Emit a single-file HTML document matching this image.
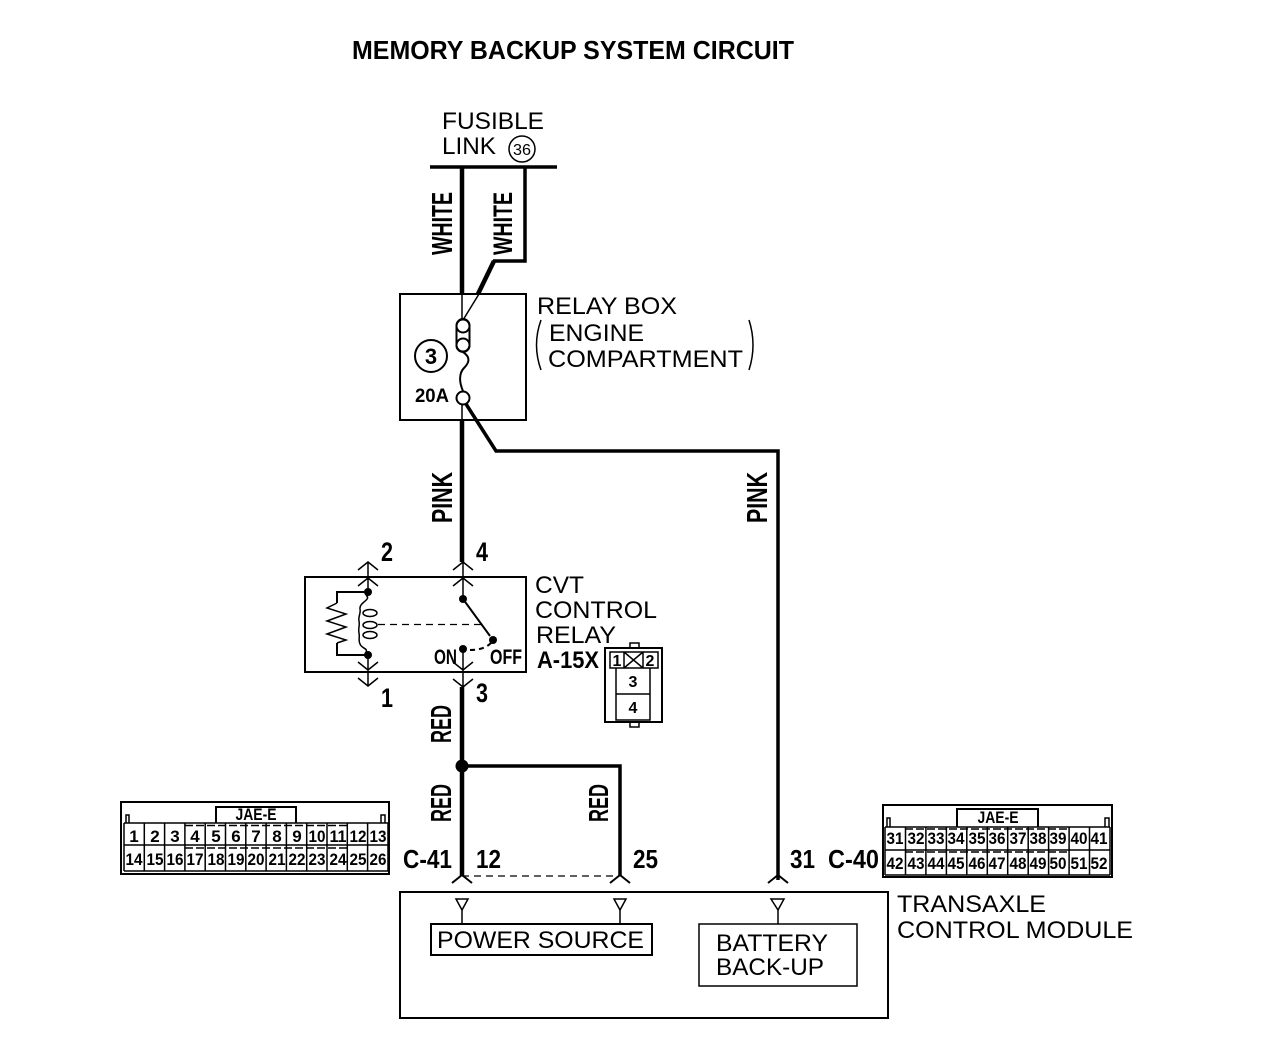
<!DOCTYPE html>
<html><head><meta charset="utf-8"><style>
html,body{margin:0;padding:0;background:#fff}
svg{display:block}
text{font-family:"Liberation Sans",sans-serif;fill:#000}
.b{font-weight:bold}
.n{font-size:24px}
.c{font-size:17px;font-weight:bold;text-anchor:middle}
.w{fill:none;stroke:#000;stroke-width:3.5}
.t{fill:none;stroke:#000;stroke-width:2}
.h{fill:none;stroke:#000;stroke-width:1.5}
</style></head><body>
<svg width="1280" height="1058" viewBox="0 0 1280 1058" xmlns="http://www.w3.org/2000/svg">
<text class="b" x="352" y="59" font-size="26" textLength="442" lengthAdjust="spacingAndGlyphs">MEMORY BACKUP SYSTEM CIRCUIT</text>

<!-- Fusible link -->
<text class="n" x="442" y="129" textLength="102" lengthAdjust="spacingAndGlyphs">FUSIBLE</text>
<text class="n" x="442" y="154" textLength="54" lengthAdjust="spacingAndGlyphs">LINK</text>
<circle class="h" cx="522" cy="149" r="13"/>
<text x="522" y="155" font-size="16" text-anchor="middle" textLength="18" lengthAdjust="spacingAndGlyphs">36</text>
<path d="M430 167H557" stroke="#000" stroke-width="3.5"/>
<path d="M462 167V294" stroke="#000" stroke-width="4.500"/>
<path d="M525 167V261H493" class="w"/>
<path d="M494 261L478 294" stroke="#000" stroke-width="4.500"/>

<text class="b" font-size="29" transform="translate(452 255) rotate(-90)" textLength="63" lengthAdjust="spacingAndGlyphs">WHITE</text>
<text class="b" font-size="27" transform="translate(512 255) rotate(-90)" textLength="63" lengthAdjust="spacingAndGlyphs">WHITE</text>

<!-- Relay box -->
<rect class="t" x="400" y="294" width="126" height="126"/>
<path d="M462 294V320M479 294L463 320" class="h"/>
<rect class="t" x="456.500" y="319" width="13" height="33" rx="6.500" fill="#fff"/>
<circle class="t" cx="463" cy="326" r="6.500"/>
<circle class="t" cx="463" cy="345" r="6.500"/>
<path d="M463 352C472 358 468 364 464 368C459 373 459 382 463 391" class="t"/>
<circle class="t" cx="463" cy="398" r="6.500"/>
<path d="M462 404V420" class="h"/>
<circle class="t" cx="431" cy="356" r="16"/>
<text class="b" x="431" y="364" font-size="22" text-anchor="middle">3</text>
<text class="b" x="415" y="402" font-size="19" textLength="34" lengthAdjust="spacingAndGlyphs">20A</text>
<text class="n" x="537" y="314" textLength="140" lengthAdjust="spacingAndGlyphs">RELAY BOX</text>
<text class="n" x="549" y="341" textLength="95" lengthAdjust="spacingAndGlyphs">ENGINE</text>
<text class="n" x="548" y="367" textLength="195" lengthAdjust="spacingAndGlyphs">COMPARTMENT</text>
<path d="M541 320Q532 345 541 370M749 320Q757 345 749 370" class="h"/>

<!-- Wires below relay box -->
<path d="M462 420V562" stroke="#000" stroke-width="4.500"/>
<path d="M466 404L496 451H778V880" class="w"/>
<text class="b" font-size="29" transform="translate(452 523) rotate(-90)" textLength="51" lengthAdjust="spacingAndGlyphs">PINK</text>
<text class="b" font-size="29" transform="translate(767 523) rotate(-90)" textLength="51" lengthAdjust="spacingAndGlyphs">PINK</text>

<!-- CVT relay -->
<rect class="t" x="305" y="577" width="221" height="95"/>
<path d="M358 570L368 562L378 570M358 586L368 578L378 586M368 562V592" class="h"/>
<path d="M453 570L463 562L473 570M453 586L463 578L473 586M463 562V599" class="h"/>
<path d="M358 662L368 670L378 662M358 678L368 686L378 678M368 655V686" class="h"/>
<path d="M453 662L463 670L473 662M453 679L463 687L473 679M463 649V687" class="h"/>
<circle cx="368" cy="592" r="4"/>
<circle cx="368" cy="655" r="4"/>
<circle cx="463" cy="599" r="4"/>
<circle cx="463" cy="649" r="4"/>
<circle cx="493" cy="640" r="4"/>
<path d="M463 599L490 636" stroke="#000" stroke-width="2"/>
<path d="M378 624.500H482" stroke="#000" stroke-width="1.300" stroke-dasharray="7 5" fill="none"/>
<path d="M470 650Q484 650 491 643" stroke="#000" stroke-width="2" stroke-dasharray="5 4" fill="none"/>
<path d="M368 592H337V603M337 643V655H368" class="t"/>
<path d="M337 603L327 608L346 614L327 621L346 627L327 634L346 640L337 643" class="h"/>
<path d="M366 595C372 600 359 602 360 609C361 614 358 616 359 621C360 626 358 628 359 633C360 638 358 640 360 644C362 649 368 648 366 652" class="h"/>
<ellipse class="h" cx="370" cy="613" rx="7" ry="3.500"/>
<ellipse class="h" cx="370" cy="625" rx="7" ry="3.500"/>
<ellipse class="h" cx="370" cy="635" rx="7" ry="3.500"/>
<text class="b" x="434" y="664" font-size="21" textLength="23" lengthAdjust="spacingAndGlyphs">ON</text>
<text class="b" x="490" y="664" font-size="21" textLength="32" lengthAdjust="spacingAndGlyphs">OFF</text>
<text class="n" x="535" y="593" textLength="49" lengthAdjust="spacingAndGlyphs">CVT</text>
<text class="n" x="535" y="618" textLength="122" lengthAdjust="spacingAndGlyphs">CONTROL</text>
<text class="n" x="536" y="643" textLength="80" lengthAdjust="spacingAndGlyphs">RELAY</text>
<text class="b" x="537" y="668" font-size="24" textLength="62" lengthAdjust="spacingAndGlyphs">A-15X</text>
<text class="b" x="381" y="561" font-size="27" textLength="12" lengthAdjust="spacingAndGlyphs">2</text>
<text class="b" x="476" y="561" font-size="27" textLength="12" lengthAdjust="spacingAndGlyphs">4</text>
<text class="b" x="381" y="707" font-size="27" textLength="12" lengthAdjust="spacingAndGlyphs">1</text>
<text class="b" x="476" y="702" font-size="27" textLength="12" lengthAdjust="spacingAndGlyphs">3</text>

<!-- Relay connector -->
<rect class="t" x="605" y="648" width="57" height="74"/>
<rect class="h" x="630" y="643" width="9" height="5"/>
<rect class="h" x="630" y="722" width="9" height="5"/>
<path d="M610 652H658V668H610ZM624 652V668M643 652V668M624 652L643 668M643 652L624 668M616 668V720H650V668M616 694H650" class="h"/>
<text class="b" x="617" y="666" font-size="16" text-anchor="middle">1</text>
<text class="b" x="650" y="666" font-size="16" text-anchor="middle">2</text>
<text class="b" x="633" y="687" font-size="16" text-anchor="middle">3</text>
<text class="b" x="633" y="713" font-size="16" text-anchor="middle">4</text>

<!-- Lower wires -->
<path d="M462 687V876" stroke="#000" stroke-width="4.500"/>
<path d="M462 766H620V876" class="w"/>
<circle cx="462" cy="766" r="6.500"/>
<text class="b" font-size="29" transform="translate(451 743) rotate(-90)" textLength="38" lengthAdjust="spacingAndGlyphs">RED</text>
<text class="b" font-size="29" transform="translate(451 822) rotate(-90)" textLength="38" lengthAdjust="spacingAndGlyphs">RED</text>
<text class="b" font-size="28" transform="translate(608 822) rotate(-90)" textLength="38" lengthAdjust="spacingAndGlyphs">RED</text>
<text class="b" x="403" y="868" font-size="26" textLength="49" lengthAdjust="spacingAndGlyphs">C-41</text>
<text class="b" x="476" y="868" font-size="26" textLength="25" lengthAdjust="spacingAndGlyphs">12</text>
<text class="b" x="633" y="868" font-size="26" textLength="25" lengthAdjust="spacingAndGlyphs">25</text>
<text class="b" x="790" y="868" font-size="26" textLength="25" lengthAdjust="spacingAndGlyphs">31</text>
<text class="b" x="828" y="868" font-size="26" textLength="51" lengthAdjust="spacingAndGlyphs">C-40</text>
<path d="M462 876H620" stroke="#000" stroke-width="1.300" stroke-dasharray="7 5" fill="none"/>
<path d="M452 883L462 875L472 883M610 883L620 875L630 883M768 883L778 875L788 883" class="t"/>

<!-- Module -->
<rect class="t" x="400" y="892" width="488" height="126"/>
<path d="M456 899H468L462 910ZM614 899H626L620 910ZM771 899H784L778 910Z" class="h" fill="#fff"/>
<path d="M462 910V924M620 910V924M778 910V924" class="h"/>
<rect class="t" x="431" y="924" width="221" height="31"/>
<rect class="h" x="699" y="924" width="158" height="62"/>
<text class="n" x="437" y="948" textLength="207" lengthAdjust="spacingAndGlyphs">POWER SOURCE</text>
<text class="n" x="716" y="951" textLength="112" lengthAdjust="spacingAndGlyphs">BATTERY</text>
<text class="n" x="716" y="975" textLength="108" lengthAdjust="spacingAndGlyphs">BACK-UP</text>
<text class="n" x="897" y="912" textLength="149" lengthAdjust="spacingAndGlyphs">TRANSAXLE</text>
<text class="n" x="897" y="938" textLength="236" lengthAdjust="spacingAndGlyphs">CONTROL MODULE</text>

<!-- Left connector -->
<rect class="t" x="121" y="802" width="268" height="72"/>
<path d="M216 823V807H296V823" class="t"/>
<path d="M126 823V815H129V823M381 823V815H385V823" class="h"/>
<path d="M124 823H388M124 845H388M124 871H388M124 823V871M144.300 823V871M164.600 823V871M184.900 823V871M205.200 823V871M225.500 823V871M245.800 823V871M266.100 823V871M286.400 823V871M306.700 823V871M327 823V871M347.300 823V871M367.600 823V871M388 823V871" class="h"/>
<path d="M185 825.500H348M185 848H348" stroke="#000" stroke-width="1.500" stroke-dasharray="8 3" fill="none"/>
<text class="b" x="256" y="820" font-size="17" text-anchor="middle" textLength="41" lengthAdjust="spacingAndGlyphs">JAE-E</text>
<g>
<text class="c" x="134" y="842">1</text><text class="c" x="155" y="842">2</text><text class="c" x="175" y="842">3</text><text class="c" x="195" y="842">4</text><text class="c" x="216" y="842">5</text><text class="c" x="236" y="842">6</text><text class="c" x="256" y="842">7</text><text class="c" x="277" y="842">8</text><text class="c" x="297" y="842">9</text>
<text class="c" x="317" y="842" textLength="17" lengthAdjust="spacingAndGlyphs">10</text><text class="c" x="338" y="842" textLength="17" lengthAdjust="spacingAndGlyphs">11</text><text class="c" x="358" y="842" textLength="17" lengthAdjust="spacingAndGlyphs">12</text><text class="c" x="378" y="842" textLength="17" lengthAdjust="spacingAndGlyphs">13</text>
<text class="c" x="134" y="865" textLength="17" lengthAdjust="spacingAndGlyphs">14</text><text class="c" x="155" y="865" textLength="17" lengthAdjust="spacingAndGlyphs">15</text><text class="c" x="175" y="865" textLength="17" lengthAdjust="spacingAndGlyphs">16</text><text class="c" x="195" y="865" textLength="17" lengthAdjust="spacingAndGlyphs">17</text><text class="c" x="216" y="865" textLength="17" lengthAdjust="spacingAndGlyphs">18</text><text class="c" x="236" y="865" textLength="17" lengthAdjust="spacingAndGlyphs">19</text><text class="c" x="256" y="865" textLength="17" lengthAdjust="spacingAndGlyphs">20</text><text class="c" x="277" y="865" textLength="17" lengthAdjust="spacingAndGlyphs">21</text><text class="c" x="297" y="865" textLength="17" lengthAdjust="spacingAndGlyphs">22</text><text class="c" x="317" y="865" textLength="17" lengthAdjust="spacingAndGlyphs">23</text><text class="c" x="338" y="865" textLength="17" lengthAdjust="spacingAndGlyphs">24</text><text class="c" x="358" y="865" textLength="17" lengthAdjust="spacingAndGlyphs">25</text><text class="c" x="378" y="865" textLength="17" lengthAdjust="spacingAndGlyphs">26</text>
</g>

<!-- Right connector -->
<rect class="t" x="883" y="805" width="229" height="72"/>
<path d="M957 827V809H1038V827" class="t"/>
<path d="M887 827V818H890V827M1105 827V818H1109V827" class="h"/>
<path d="M885 827H1110M885 850H1110M885 875H1110M885 827V875M905.500 827V875M925.900 827V875M946.400 827V875M966.800 827V875M987.300 827V875M1007.700 827V875M1028.200 827V875M1048.600 827V875M1069.100 827V875M1089.500 827V875M1110 827V875" class="h"/>
<path d="M905 829H1069M905 852H1069" stroke="#000" stroke-width="1.500" stroke-dasharray="8 3" fill="none"/>
<text class="b" x="998" y="823" font-size="17" text-anchor="middle" textLength="41" lengthAdjust="spacingAndGlyphs">JAE-E</text>
<g>
<text class="c" x="895" y="844" textLength="17" lengthAdjust="spacingAndGlyphs">31</text><text class="c" x="916" y="844" textLength="17" lengthAdjust="spacingAndGlyphs">32</text><text class="c" x="936" y="844" textLength="17" lengthAdjust="spacingAndGlyphs">33</text><text class="c" x="956" y="844" textLength="17" lengthAdjust="spacingAndGlyphs">34</text><text class="c" x="977" y="844" textLength="17" lengthAdjust="spacingAndGlyphs">35</text><text class="c" x="997" y="844" textLength="17" lengthAdjust="spacingAndGlyphs">36</text><text class="c" x="1018" y="844" textLength="17" lengthAdjust="spacingAndGlyphs">37</text><text class="c" x="1038" y="844" textLength="17" lengthAdjust="spacingAndGlyphs">38</text><text class="c" x="1058" y="844" textLength="17" lengthAdjust="spacingAndGlyphs">39</text><text class="c" x="1079" y="844" textLength="17" lengthAdjust="spacingAndGlyphs">40</text><text class="c" x="1099" y="844" textLength="17" lengthAdjust="spacingAndGlyphs">41</text>
<text class="c" x="895" y="869" textLength="17" lengthAdjust="spacingAndGlyphs">42</text><text class="c" x="916" y="869" textLength="17" lengthAdjust="spacingAndGlyphs">43</text><text class="c" x="936" y="869" textLength="17" lengthAdjust="spacingAndGlyphs">44</text><text class="c" x="956" y="869" textLength="17" lengthAdjust="spacingAndGlyphs">45</text><text class="c" x="977" y="869" textLength="17" lengthAdjust="spacingAndGlyphs">46</text><text class="c" x="997" y="869" textLength="17" lengthAdjust="spacingAndGlyphs">47</text><text class="c" x="1018" y="869" textLength="17" lengthAdjust="spacingAndGlyphs">48</text><text class="c" x="1038" y="869" textLength="17" lengthAdjust="spacingAndGlyphs">49</text><text class="c" x="1058" y="869" textLength="17" lengthAdjust="spacingAndGlyphs">50</text><text class="c" x="1079" y="869" textLength="17" lengthAdjust="spacingAndGlyphs">51</text><text class="c" x="1099" y="869" textLength="17" lengthAdjust="spacingAndGlyphs">52</text>
</g>
</svg>
</body></html>
